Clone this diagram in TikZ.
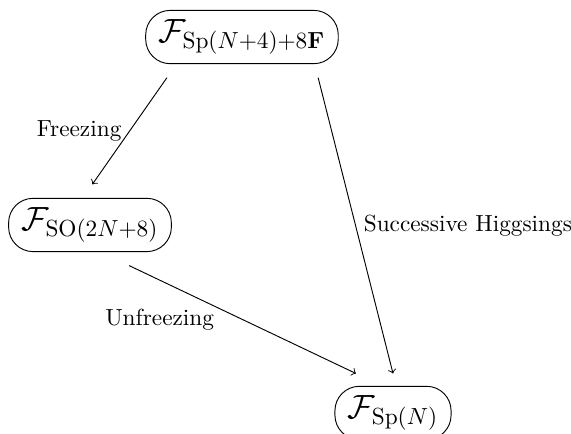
\documentclass[tikz,border=0pt]{standalone}
\usepackage{amsmath}
\usepackage{amssymb}
\usetikzlibrary{positioning}

\begin{document}
\begin{tikzpicture}[x=0.9615cm, y=0.9615cm, every node/.style={font=\normalsize},
             theory/.style={rectangle, draw, rounded corners=10.5pt, inner xsep=5.5pt,
                            inner ysep=4pt, font=\Large, minimum height=21.5pt},
             flow/.style={->}]
\useasboundingbox (0,0) rectangle (8.96,-6.81);
%% the three theories
\node[theory] (top) at (3.797,-0.581) {$\mathcal{F}_{\mathrm{Sp}(N+4)+8\mathbf{F}}$};
\node[theory] (so)  at (1.412,-3.530) {$\mathcal{F}_{\mathrm{SO}(2N+8)}$};
\node[theory] (sp)  at (6.167,-6.480) {$\mathcal{F}_{\mathrm{Sp}(N)}$};
%% flows between them
\draw[flow] ([xshift=-32.2pt,yshift=-5.8pt]top.south) -- ([xshift=1pt,yshift=5.8pt]so.north)
  node[midway, left] {Freezing};
\draw[flow] ([xshift=32.7pt,yshift=-5.8pt]top.south) -- ([yshift=5.3pt]sp.north)
  node[midway, right] {Successive Higgsings};
\draw[flow] ([xshift=16.8pt,yshift=-5.8pt]so.south) -- ([xshift=-15.9pt,yshift=5.3pt]sp.north)
  node[midway, left=8.7pt] {Unfreezing};
\end{tikzpicture}
\end{document}
